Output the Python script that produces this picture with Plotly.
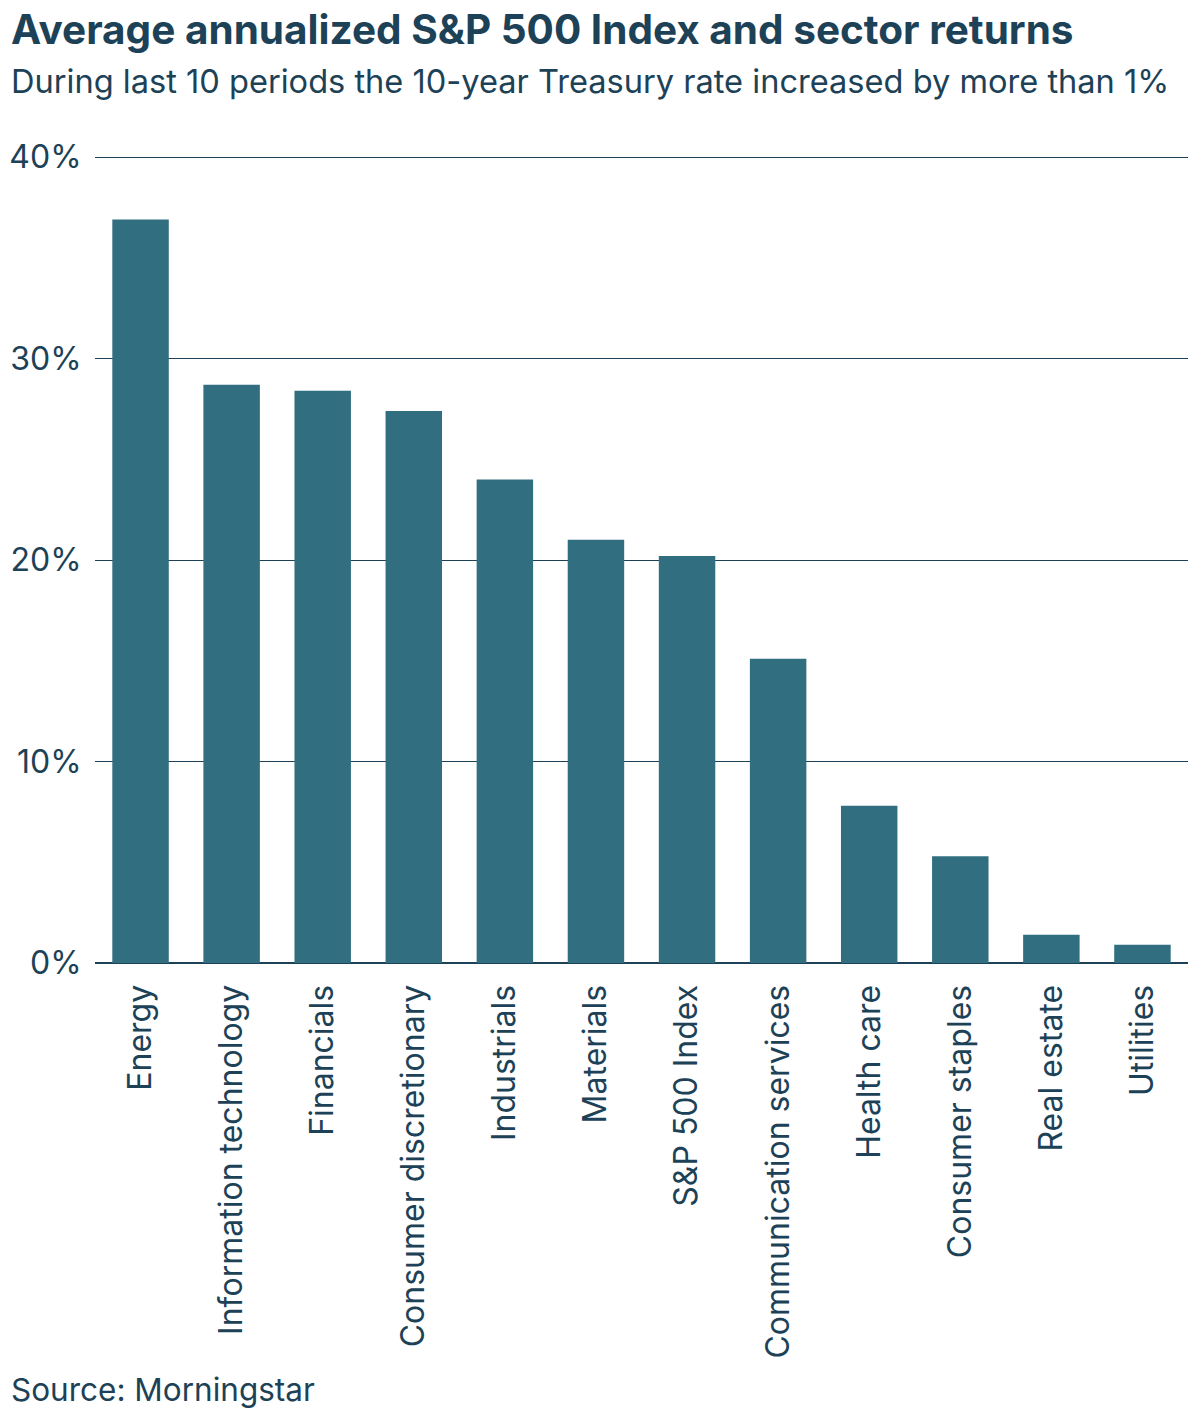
import plotly.graph_objects as go

sectors = ["Energy", "Information technology", "Financials", "Consumer discretionary",
           "Industrials", "Materials", "S&P 500 Index", "Communication services",
           "Health care", "Consumer staples", "Real estate", "Utilities"]
returns = [36.9, 28.7, 28.4, 27.4, 24.0, 21.0, 20.2, 15.1, 7.8, 5.3, 1.4, 0.9]

tick_vals = [0, 10, 20, 30, 40]
tick_text = ["0%", "10%", "20%", "30%", "40%"]

navy = "#1d4257"
bar_color = "#316e80"
font = "Inter"

fig = go.Figure(go.Bar(x=sectors, y=returns, marker_color=bar_color, marker_line_width=0))

# page has an 8px body margin, so everything is shifted back by 8px
fig.update_layout(
    width=1200, height=1419,
    margin=dict(l=87, r=20, t=147, b=464),
    plot_bgcolor="white", paper_bgcolor="white",
    bargap=0.38,
    showlegend=False,
    font=dict(family=font, color=navy, size=32),
    annotations=[
        dict(text="<b>Average annualized S&P 500 Index and sector returns</b>",
             xref="paper", yref="paper", x=-0.0785, y=1.155, xanchor="left", yanchor="middle",
             showarrow=False, font=dict(size=40.5, color=navy)),
        dict(text="During last 10 periods the 10-year Treasury rate increased by more than 1%",
             xref="paper", yref="paper", x=-0.0785, y=1.0916, xanchor="left", yanchor="middle",
             showarrow=False, font=dict(size=32.6, color=navy)),
        dict(text="Source: Morningstar", xref="paper", yref="paper",
             x=-0.0785, y=-0.528, xanchor="left", yanchor="middle",
             showarrow=False, font=dict(size=31.5, color=navy)),
    ],
)

fig.update_yaxes(range=[0, 40.1], tickvals=tick_vals, ticktext=tick_text,
                 showgrid=True, gridcolor=navy, gridwidth=1,
                 zeroline=True, zerolinecolor=navy, zerolinewidth=1.5,
                 ticks="outside", ticklen=6, tickcolor="white", automargin=False,
                 tickfont=dict(size=32, color=navy))
fig.update_xaxes(tickangle=-90, showline=False, ticks="outside", ticklen=8,
                 tickcolor="white", automargin=False, tickfont=dict(size=32, color=navy))

fig.write_html("out.html")
